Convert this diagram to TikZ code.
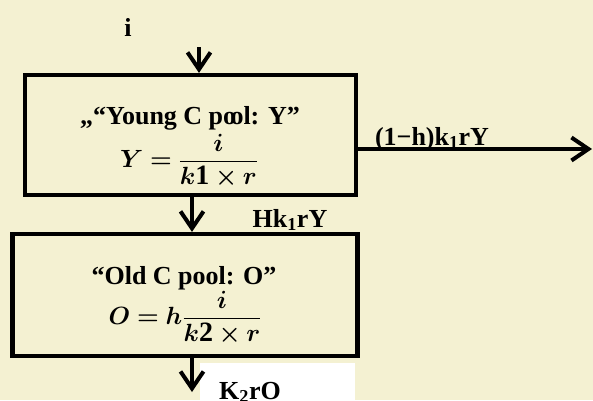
\documentclass[tikz,border=0pt]{standalone}
\usepackage{fontspec}
\setmainfont{Liberation Serif}
\usepackage{amsmath}
\usepackage{bm}
\usetikzlibrary{arrows.meta}
\definecolor{bgtint}{RGB}{244,241,210}
\tikzset{
  pool/.style={draw=black, line width=4.2pt, rectangle, inner sep=0pt},
  flow/.style={draw=black, line width=4pt, line join=round,
    -{Straight Barb[length=17pt,width=23pt,line width=4pt]}},
  lbl/.style={font=\fontsize{26}{30}\selectfont\bfseries, inner sep=0pt, anchor=base},
  eqn/.style={font=\fontsize{28}{32}\selectfont, inner sep=0pt},
}
\begin{document}
\begin{tikzpicture}[x=1pt,y=-1pt]
\path[use as bounding box, fill=bgtint] (0,0) rectangle (593,400);
% boxes
\node[pool, minimum width=331, minimum height=120] (young) at (190.5,135) {};
\node[pool, minimum width=345, minimum height=122] (old) at (185,295) {};
\node[fill=white, inner sep=0pt, minimum width=155, minimum height=40, anchor=north west] (kbox) at (200,363) {};
% texts
\node[lbl] (iLbl) at (128,36) {i};
\node[lbl] (yTitle) at (190,124) {„“Young C po\kern-0.22em ol: Y”};
\node[eqn] (yEq) at (189,161) {$\bm{Y}\bm{=}\dfrac{\bm{i}}{\bm{k}\mathbf{1}\bm{\times}\bm{r}}$};
\node[lbl] (outLbl) at (432,145) {(1−h)k\textsubscript{1}rY};
\node[lbl] (hLbl) at (290,227) {Hk\textsubscript{1}rY};
\node[lbl] (oTitle) at (184,284) {“Old C pool: O”};
\node[eqn] (oEq) at (185,318) {$\bm{O}\bm{=}\bm{h}\dfrac{\bm{i}}{\bm{k}\mathbf{2}\bm{\times}\bm{r}}$};
\node[lbl] (kLbl) at (250,399) {K\textsubscript{2}rO};
% connectors
\coordinate (iSrc) at (199,47);
\draw[flow] (iSrc) -- (iSrc |- young.north);
\coordinate (outEnd) at (592,149);
\draw[flow] (young.east |- outEnd) -- (outEnd);
\coordinate (midX) at (192,0);
\draw[flow] (midX |- young.south) -- (midX |- old.north);
\coordinate (kEnd) at (192,392);
\draw[flow] (midX |- old.south) -- (kEnd);
\end{tikzpicture}
\end{document}
